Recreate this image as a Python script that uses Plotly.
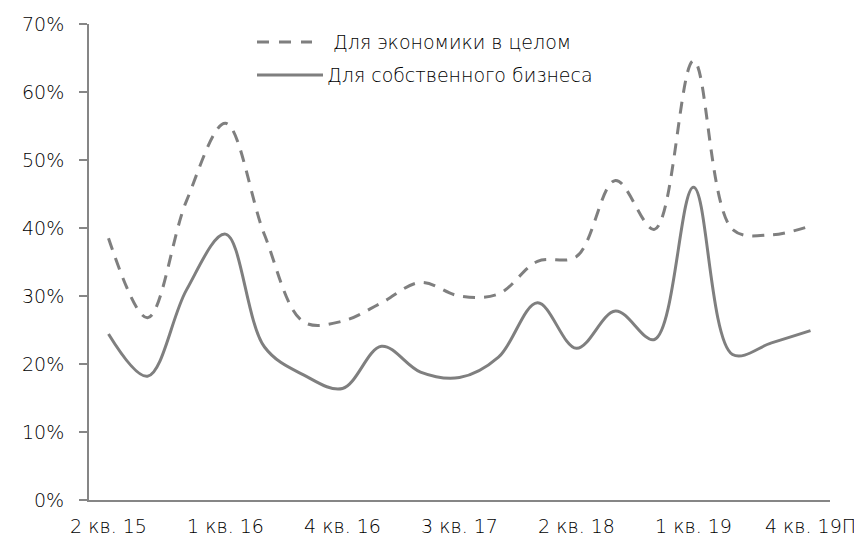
import plotly.graph_objects as go

quarters = [
    "2 кв. 15", "3 кв. 15", "4 кв. 15",
    "1 кв. 16", "2 кв. 16", "3 кв. 16", "4 кв. 16",
    "1 кв. 17", "2 кв. 17", "3 кв. 17", "4 кв. 17",
    "1 кв. 18", "2 кв. 18", "3 кв. 18", "4 кв. 18",
    "1 кв. 19", "2 кв. 19", "3 кв. 19", "4 кв. 19П",
]
economy = [38.5, 26.8, 44.0, 55.4, 39.0, 26.2, 26.3, 29.0, 32.0, 30.0, 30.3,
           35.1, 35.8, 47.0, 39.8, 64.6, 39.8, 39.0, 40.3]
business = [24.4, 18.2, 30.9, 39.1, 22.5, 18.4, 16.4, 22.6, 18.8, 18.0, 21.0,
            29.0, 22.3, 27.8, 23.6, 46.0, 21.4, 23.1, 24.9]
series_names = ["Для экономики в целом", "Для собственного бизнеса"]
tick_labels = quarters[::3]

LINE = "#7f7f7f"
AXIS = "#868686"
FONT = "DejaVu Sans"
FS = 19
FW = 200

# page body has an 8px margin, so the figure is drawn 8px smaller and offset
OFF = 8
W, H = 862 - OFF, 543 - OFF
L, R, T, B = 81, 32, 16, 43
pw, ph = W - L - R, H - T - B

def px(x):  # screen x -> paper
    return (x - OFF - L) / pw

def py(y):  # screen y -> paper
    return (H - B - (y - OFF)) / ph

fnt = dict(family=FONT, size=FS, color="#000", weight=FW)

fig = go.Figure()
fig.add_trace(go.Scatter(
    x=quarters, y=[v / 100 for v in economy], mode="lines", name=series_names[0],
    line=dict(color=LINE, width=3, dash="12px,9px", shape="spline", smoothing=1.0),
    showlegend=False,
))
fig.add_trace(go.Scatter(
    x=quarters, y=[v / 100 for v in business], mode="lines", name=series_names[1],
    line=dict(color=LINE, width=3, shape="spline", smoothing=1.0),
    showlegend=False,
))

# manual legend
shapes = [
    dict(type="line", xref="paper", yref="paper", x0=px(257), x1=px(312), y0=py(42), y1=py(42),
         line=dict(color=LINE, width=3, dash="12px,10px")),
    dict(type="line", xref="paper", yref="paper", x0=px(257), x1=px(323), y0=py(75), y1=py(75),
         line=dict(color=LINE, width=3)),
]
annotations = [
    dict(xref="paper", yref="paper", x=px(331), y=py(42), text=series_names[0], showarrow=False,
         xanchor="left", yanchor="middle", font=fnt),
    dict(xref="paper", yref="paper", x=px(325), y=py(75), text=series_names[1], showarrow=False,
         xanchor="left", yanchor="middle", font=fnt),
]

fig.update_layout(
    width=W, height=H,
    margin=dict(l=L, r=R, t=T, b=B, autoexpand=False),
    paper_bgcolor="white", plot_bgcolor="white",
    font=fnt,
    shapes=shapes, annotations=annotations,
    xaxis=dict(
        type="category", categoryorder="array", categoryarray=quarters,
        range=[-0.5, len(quarters) - 0.5], automargin=False,
        tickmode="array", tickvals=tick_labels, ticktext=tick_labels,
        showline=True, linecolor=AXIS, linewidth=2, ticks="", showgrid=False,
        zeroline=False, ticklabelstandoff=8, tickfont=fnt,
    ),
    yaxis=dict(
        range=[0, 0.7], tickvals=[i / 10 for i in range(8)], tickformat=".0%",
        showline=True, linecolor=AXIS, linewidth=2, ticks="outside", ticklen=8,
        tickcolor=AXIS, tickwidth=2, showgrid=False, zeroline=False, automargin=False,
        ticklabelstandoff=11, tickfont=fnt,
    ),
)

fig.write_html("out.html")
